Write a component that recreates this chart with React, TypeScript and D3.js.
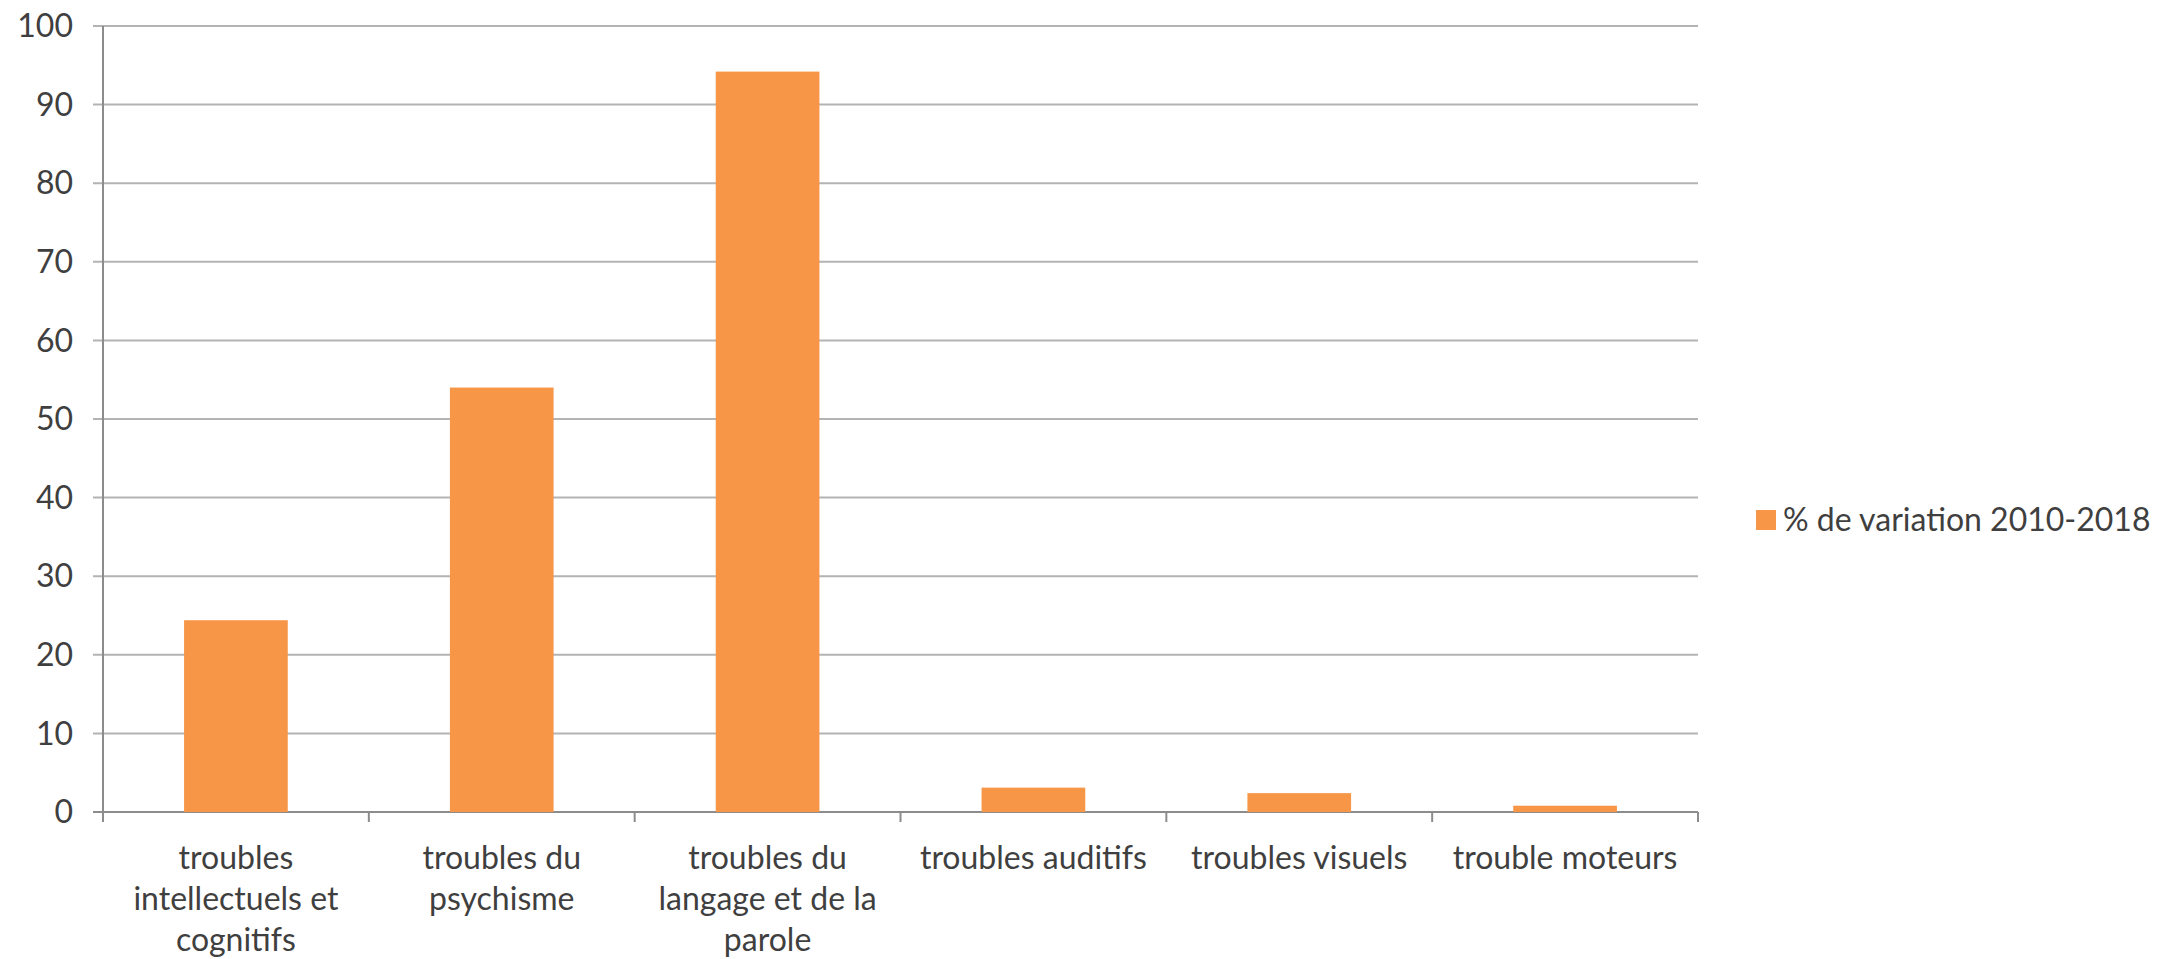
import * as d3 from 'd3';

// Chart data
const CATEGORIES = [
  'troubles intellectuels et cognitifs',
  'troubles du psychisme',
  'troubles du langage et de la parole',
  'troubles auditifs',
  'troubles visuels',
  'trouble moteurs',
];
const CATEGORY_LINES = [
  ['troubles', 'intellectuels et', 'cognitifs'],
  ['troubles du', 'psychisme'],
  ['troubles du', 'langage et de la', 'parole'],
  ['troubles auditifs'],
  ['troubles visuels'],
  ['trouble moteurs'],
];
const VALUES = [24.4, 54.0, 94.2, 3.1, 2.4, 0.8];
const Y_TICKS = [0, 10, 20, 30, 40, 50, 60, 70, 80, 90, 100];
const SERIES_NAME = '% de variation 2010-2018';

const WIDTH = 2161;
const HEIGHT = 959;
const FONT = 'Lato, "Open Sans", sans-serif';
const FONT_SIZE = 32;
const TEXT_COLOR = '#3f3f3f';
const GRID_COLOR = '#b3b3b3';
const AXIS_COLOR = '#8c8c8c';
const BAR_COLOR = '#f79646';

export default function App() {
  const margin = { top: 26, right: 463, bottom: 147, left: 103 };
  const innerWidth = WIDTH - margin.left - margin.right;
  const innerHeight = HEIGHT - margin.top - margin.bottom;

  const x = d3.scaleBand().domain(CATEGORIES).range([0, innerWidth]);
  const y = d3.scaleLinear().domain([0, 100]).range([innerHeight, 0]);

  const barWidth = x.bandwidth() * 0.39;
  const boundaries = d3.range(CATEGORIES.length + 1).map((i) => i * x.step());

  return (
    <svg
      width={WIDTH}
      height={HEIGHT}
      style={{ position: 'absolute', left: 0, top: 0, background: '#fff' }}
      fontFamily={FONT}
    >
      <g transform={`translate(${margin.left},${margin.top})`}>
        {/* Grid lines + y ticks */}
        {Y_TICKS.map((t) => (
          <g key={t}>
            <line
              x1={-10}
              x2={innerWidth}
              y1={y(t)}
              y2={y(t)}
              stroke={t === 0 ? AXIS_COLOR : GRID_COLOR}
              strokeWidth={2}
            />
            <text
              x={-30}
              y={y(t)}
              dy="0.35em"
              textAnchor="end"
              fontSize={FONT_SIZE}
              fill={TEXT_COLOR}
            >
              {t}
            </text>
          </g>
        ))}

        {/* Y axis line */}
        <line x1={0} x2={0} y1={0} y2={innerHeight} stroke={AXIS_COLOR} strokeWidth={2} />

        {/* Bars */}
        {CATEGORIES.map((c, i) => (
          <rect
            key={c}
            x={(x(c) || 0) + (x.bandwidth() - barWidth) / 2}
            y={y(VALUES[i])}
            width={barWidth}
            height={innerHeight - y(VALUES[i])}
            fill={BAR_COLOR}
          />
        ))}

        {/* X axis ticks */}
        {boundaries.map((b, i) => (
          <line
            key={i}
            x1={b}
            x2={b}
            y1={innerHeight}
            y2={innerHeight + 10}
            stroke={AXIS_COLOR}
            strokeWidth={2}
          />
        ))}

        {/* Category labels */}
        {CATEGORIES.map((c, i) => (
          <text
            key={c}
            x={(x(c) || 0) + x.bandwidth() / 2}
            y={innerHeight + 57}
            textAnchor="middle"
            fontSize={FONT_SIZE}
            fill={TEXT_COLOR}
          >
            {CATEGORY_LINES[i].map((line, j) => (
              <tspan key={j} x={(x(c) || 0) + x.bandwidth() / 2} dy={j === 0 ? 0 : 41}>
                {line}
              </tspan>
            ))}
          </text>
        ))}
      </g>

      {/* Legend */}
      <g transform="translate(1756,520)">
        <rect x={0} y={-10} width={20} height={20} fill={BAR_COLOR} />
        <text x={27} y={0} dy="0.35em" fontSize={FONT_SIZE} fill={TEXT_COLOR}>
          {SERIES_NAME}
        </text>
      </g>
    </svg>
  );
}
